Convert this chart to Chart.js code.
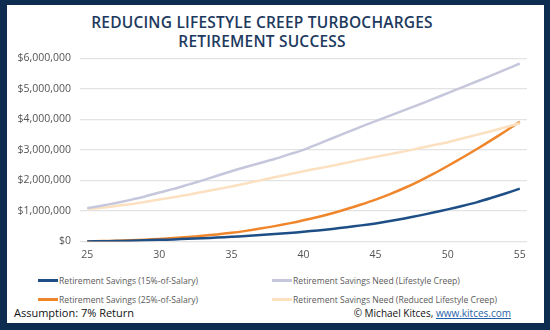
<!DOCTYPE html>
<html>
<head>
<meta charset="utf-8">
<script src="https://cdn.jsdelivr.net/npm/chart.js@4"></script>
<style>
  html, body { margin: 0; padding: 0; }
  body { width: 550px; height: 330px; background: #0d2c50; position: relative; overflow: hidden; font-family: "Open Sans", sans-serif; }
  #panel { position: absolute; left: 7px; top: 5px; width: 537px; height: 318px; background: #fff; }
  #title { position: absolute; left: 0; top: 8px; width: 510px; text-align: center; color: #1d3a5e; font: 600 15.5px "Open Sans", sans-serif; line-height: 19px; letter-spacing: 0.2px; }
  #wrap { position: absolute; left: 0; top: 38px; width: 537px; height: 225px; }
  .leg { position: absolute; font-size: 8.6px; color: #5a5a5a; white-space: nowrap; }
  .leg i { display: inline-block; width: 20px; height: 3px; vertical-align: middle; margin-right: 1px; position: relative; top: -1px; }
  #assume { position: absolute; left: 7px; top: 300px; font-size: 11px; color: #111; }
  #credit { position: absolute; right: 33px; top: 301px; font-size: 10px; color: #111; }
  #credit span { color: #1f5fa8; text-decoration: underline; }
</style>
</head>
<body>
<div id="panel">
  <div id="title">REDUCING LIFESTYLE CREEP TURBOCHARGES<br>RETIREMENT SUCCESS</div>
  <div id="wrap"><canvas id="c"></canvas></div>
  <div id="legend"></div>
  <div id="assume">Assumption: 7% Return</div>
  <div id="credit">© Michael Kitces, <span>www.kitces.com</span></div>
</div>
<script>
// ages 25..55
const ages = [];
for (let a = 25; a <= 55; a++) ages.push(a);

// values in thousands of dollars
const savings15 = [0, 5, 12, 22, 35, 50, 66, 84, 104, 126, 150, 178, 208, 240, 275, 315, 360, 410, 465, 525, 590, 665, 750, 845, 945, 1050, 1160, 1280, 1420, 1570, 1730];
const savings25 = [0, 10, 22, 38, 58, 80, 110, 145, 185, 230, 280, 345, 420, 500, 590, 690, 800, 925, 1060, 1210, 1370, 1550, 1750, 1970, 2210, 2470, 2740, 3020, 3310, 3610, 3920];
const needCreep = [1090, 1170, 1260, 1360, 1470, 1600, 1720, 1860, 2000, 2150, 2300, 2440, 2570, 2700, 2850, 3000, 3190, 3380, 3570, 3760, 3940, 4120, 4300, 4480, 4670, 4860, 5050, 5240, 5430, 5630, 5830];
const needReduced = [1050, 1100, 1160, 1220, 1290, 1370, 1450, 1530, 1620, 1710, 1800, 1900, 2000, 2100, 2200, 2300, 2390, 2480, 2580, 2680, 2770, 2860, 2950, 3050, 3150, 3250, 3370, 3490, 3610, 3740, 3870];

const series = [
  { label: 'Retirement Savings (15%-of-Salary)', data: savings15, color: '#1d4f86', w: 2.5 },
  { label: 'Retirement Savings Need (Lifestyle Creep)', data: needCreep, color: '#c6c7dc', w: 2.5 },
  { label: 'Retirement Savings (25%-of-Salary)', data: savings25, color: '#f0862c', w: 2.5 },
  { label: 'Retirement Savings Need (Reduced Lifestyle Creep)', data: needReduced, color: '#fce0c0', w: 2.5 }
];

// legend, two columns
const legPos = [[31, 270], [265, 270], [31, 289], [265, 289]];
const legend = document.getElementById('legend');
series.forEach((s, i) => {
  const d = document.createElement('div');
  d.className = 'leg';
  d.style.left = legPos[i][0] + 'px';
  d.style.top = legPos[i][1] + 'px';
  d.innerHTML = '<i style="background:' + s.color + '"></i>' + s.label;
  legend.appendChild(d);
});

// draw order: needs under savings
const order = [1, 3, 0, 2];

new Chart(document.getElementById('c'), {
  type: 'line',
  data: {
    labels: ages,
    datasets: order.map(i => ({
      label: series[i].label,
      data: series[i].data.map(v => v * 1000),
      borderColor: series[i].color,
      borderWidth: series[i].w,
      pointRadius: 0,
      tension: 0.3,
      fill: false
    }))
  },
  options: {
    responsive: true,
    maintainAspectRatio: false,
    animation: false,
    layout: { padding: { top: 4, right: 17, left: 0, bottom: 0 } },
    plugins: { legend: { display: false }, tooltip: { enabled: false } },
    scales: {
      x: {
        offset: true,
        grid: { display: false, drawTicks: false },
        border: { display: false },
        ticks: {
          color: '#555',
          font: { family: 'Open Sans', size: 10.5 },
          autoSkip: false,
          maxRotation: 0,
          padding: 7,
          callback: function (v, i) { return ages[i] % 5 === 0 ? ages[i] : ''; }
        }
      },
      y: {
        min: 0,
        max: 6000000,
        afterFit: s => { s.width = 73; },
        grid: { color: '#e3e3e3', lineWidth: 1.3, drawTicks: false },
        border: { display: false },
        ticks: {
          stepSize: 1000000,
          padding: 9,
          color: '#555',
          font: { family: 'Open Sans', size: 10.5 },
          callback: v => '$' + v.toLocaleString('en-US')
        }
      }
    }
  }
});
</script>
</body>
</html>
